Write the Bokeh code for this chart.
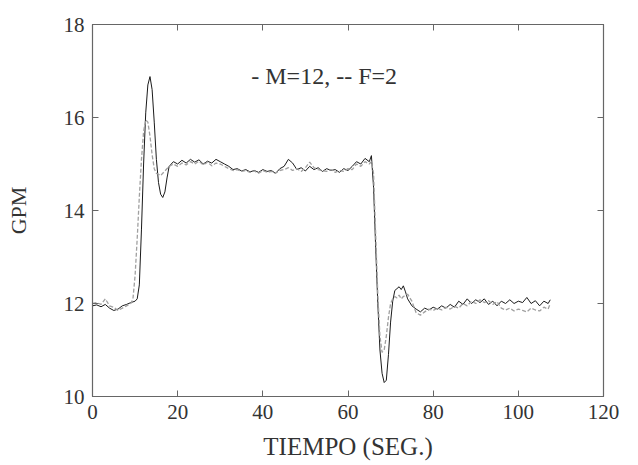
from bokeh.plotting import figure
from bokeh.models import Range1d, LinearAxis, FixedTicker, Label
from bokeh.embed import file_html
from bokeh.resources import INLINE

# ---- data ----
x_ticks = [0, 20, 40, 60, 80, 100, 120]
y_ticks = [10, 12, 14, 16, 18]
annotation = "- M=12, -- F=2"
x_title = "TIEMPO (SEG.)"
y_title = "GPM"

t_m = [0, 1, 2, 3, 4, 5, 6, 7, 8, 9, 10, 10.5, 11, 11.5, 12, 12.5, 13, 13.5, 14, 14.5,
       15, 15.5, 16, 16.5, 17, 17.5, 18, 19, 20, 21, 22, 23, 24, 25, 26, 27, 28, 29,
       30, 31, 32, 33, 34, 35, 36, 37, 38, 39, 40, 41, 42, 43, 44, 45, 46, 47, 48, 49,
       50, 51, 52, 53, 54, 55, 56, 57, 58, 59, 60, 61, 62, 63, 64, 65, 65.5, 66, 66.5,
       67, 67.5, 68, 68.5, 69, 69.5, 70, 70.5, 71, 71.5, 72, 72.5, 73, 73.5, 74, 75,
       76, 77, 78, 79, 80, 81, 82, 83, 84, 85, 86, 87, 88, 89, 90, 91, 92, 93, 94, 95,
       96, 97, 98, 99, 100, 101, 102, 103, 104, 105, 106, 107, 107.5]
gpm_m = [11.95, 11.97, 11.93, 11.98, 11.90, 11.85, 11.88, 11.95, 11.98, 12.02, 12.05,
         12.10, 12.40, 13.60, 15.00, 16.10, 16.70, 16.88, 16.60, 15.90,
         15.10, 14.60, 14.35, 14.28, 14.40, 14.70, 14.95, 15.05, 15.00, 15.08, 15.02,
         15.10, 15.04, 15.09, 15.00, 15.06, 15.02, 15.10, 15.05, 15.00, 14.95, 14.88,
         14.90, 14.85, 14.88, 14.83, 14.86, 14.82, 14.88, 14.84, 14.86, 14.80, 14.90,
         14.95, 15.10, 15.02, 14.88, 14.92, 14.85, 14.95, 14.88, 14.92, 14.84, 14.90,
         14.86, 14.88, 14.82, 14.90, 14.86, 14.95, 15.05, 15.00, 15.12, 15.05, 15.18,
         14.50, 13.20, 12.00, 11.00, 10.50, 10.30, 10.35, 10.90, 11.60, 12.05, 12.28,
         12.32, 12.36, 12.30, 12.38, 12.25, 12.10, 11.95, 11.88, 11.82, 11.90, 11.86,
         11.92, 11.88, 11.95, 11.90, 11.98, 11.92, 12.05, 11.98, 12.10, 12.00, 12.08,
         12.02, 12.10, 11.98, 12.05, 11.95, 12.05, 12.00, 12.08, 12.00, 12.05, 12.02,
         12.13, 12.00, 12.06, 11.95, 12.05, 12.00, 12.08]

t_f = [0, 1, 2, 3, 4, 5, 6, 7, 8, 9, 9.5, 10, 10.5, 11, 11.5, 12, 12.5, 13, 13.5, 14,
       14.5, 15, 15.5, 16, 16.5, 17, 18, 19, 20, 21, 22, 23, 24, 25, 26, 27, 28, 29, 30,
       31, 32, 33, 34, 35, 36, 37, 38, 39, 40, 41, 42, 43, 44, 45, 46, 47, 48, 49, 50,
       51, 52, 53, 54, 55, 56, 57, 58, 59, 60, 61, 62, 63, 64, 65, 65.5, 66, 66.5, 67,
       67.5, 68, 68.5, 69, 69.5, 70, 70.5, 71, 71.5, 72, 72.5, 73, 74, 75, 76, 77, 78,
       79, 80, 81, 82, 83, 84, 85, 86, 87, 88, 89, 90, 91, 92, 93, 94, 95, 96, 97, 98,
       99, 100, 101, 102, 103, 104, 105, 106, 107, 107.5]
gpm_f = [12.00, 12.02, 11.98, 12.10, 11.95, 11.92, 11.85, 11.90, 11.95, 12.00, 12.10,
         12.60, 13.40, 14.30, 15.10, 15.70, 15.95, 15.90, 15.60, 15.20, 14.90, 14.80,
         14.78, 14.75, 14.80, 14.85, 14.95, 15.00, 14.95, 15.02, 14.98, 15.05, 15.00,
         15.06, 14.98, 15.04, 14.96, 15.02, 15.00, 14.95, 14.90, 14.86, 14.88, 14.84,
         14.86, 14.82, 14.85, 14.80, 14.86, 14.82, 14.84, 14.80, 14.86, 14.88, 14.92,
         14.86, 14.90, 14.84, 14.92, 15.04, 14.92, 14.88, 14.86, 14.84, 14.88, 14.82,
         14.86, 14.84, 14.90, 14.88, 15.00, 14.95, 15.05, 15.00, 15.05, 14.80, 13.50,
         12.20, 11.30, 10.95, 11.00, 11.30, 11.70, 12.00, 12.10, 12.15, 12.12, 12.18,
         12.10, 12.15, 12.20, 12.05, 11.80, 11.75, 11.82, 11.88, 11.85, 11.90, 11.86,
         11.92, 11.88, 11.94, 11.90, 12.00, 11.95, 12.05, 12.00, 12.08, 12.02, 12.06,
         11.98, 12.04, 11.90, 11.86, 11.90, 11.84, 11.88, 11.85, 11.82, 11.90, 11.86,
         11.84, 11.92, 11.88, 12.00, 12.05]

FONT = "Liberation Serif"
TXT = "#333333"
AX = "#666666"

p = figure(width=628, height=462, output_backend="svg", toolbar_location=None,
           x_range=Range1d(0, 120), y_range=Range1d(10, 18),
           min_border_left=92, min_border_right=25, min_border_top=24,
           min_border_bottom=66)
p.grid.visible = False
p.outline_line_color = AX
p.outline_line_width = 1.2
p.background_fill_color = "white"
p.border_fill_color = "white"

p.line(t_m, gpm_m, line_color="#1a1a1a", line_width=1.0)
p.line(t_f, gpm_f, line_color="#a0a0a0", line_width=1.3, line_dash="4 2")

for ax in (p.xaxis[0], p.yaxis[0]):
    ax.major_tick_in = 6
    ax.major_tick_out = 0
    ax.minor_tick_in = 0
    ax.minor_tick_out = 0
    ax.axis_line_color = AX
    ax.major_tick_line_color = AX
    ax.major_label_text_font = FONT
    ax.major_label_text_font_size = "21px"
    ax.major_label_text_color = TXT
    ax.axis_label_text_font = FONT
    ax.axis_label_text_font_size = "22px"
    ax.axis_label_text_color = TXT
    ax.axis_label_text_font_style = "normal"

p.xaxis[0].ticker = FixedTicker(ticks=x_ticks)
p.yaxis[0].ticker = FixedTicker(ticks=y_ticks)
p.xaxis[0].axis_label = x_title
p.xaxis[0].axis_label_text_font_size = "25px"
p.yaxis[0].axis_label = y_title
p.xaxis[0].major_label_standoff = 8
p.yaxis[0].major_label_standoff = 8
p.xaxis[0].axis_label_standoff = 11
p.yaxis[0].axis_label_standoff = 30

for loc, tk in (("right", y_ticks), ("above", x_ticks)):
    a = LinearAxis(ticker=FixedTicker(ticks=tk))
    a.major_tick_in = 6
    a.major_tick_out = 0
    a.minor_tick_in = 0
    a.minor_tick_out = 0
    a.axis_line_color = AX
    a.major_tick_line_color = AX
    a.major_label_text_font_size = "0px"
    a.major_label_text_alpha = 0
    a.major_label_standoff = 0
    p.add_layout(a, loc)

p.add_layout(Label(x=54.4, y=16.9, text=annotation, text_font=FONT,
                   text_font_size="24px", text_color=TXT,
                   text_align="center", text_baseline="middle"))

open("out.html", "w").write(file_html(p, INLINE))
